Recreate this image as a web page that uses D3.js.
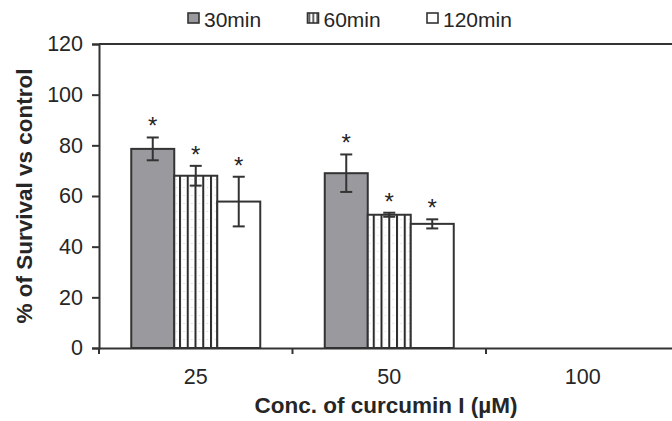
<!DOCTYPE html>
<html>
<head>
<meta charset="utf-8">
<script src="https://cdn.jsdelivr.net/npm/d3@7"></script>
<style>
  html, body { margin: 0; padding: 0; background: #fff; }
  svg { display: block; }
  text { font-family: "Liberation Sans", Arial, sans-serif; fill: #262626; }
</style>
</head>
<body>
<svg id="chart" width="672" height="421"></svg>
<script>
// ---- data ----
const categories = ["25", "50", "100"];
const series = ["30min", "60min", "120min"];
const values30 = [78.6, 69.0, null];
const values60 = [68.0, 52.6, null];
const values120 = [57.8, 49.0, null];
const err30 = [4.5, 7.4, null];
const err60 = [3.9, 0.8, null];
const err120 = [9.8, 1.8, null];
const yTicks = [0, 20, 40, 60, 80, 100, 120];
const yTitle = "% of Survival vs control";
const xTitle = "Conc. of curcumin I (\u00b5M)";

const valuesBySeries = [values30, values60, values120];
const errBySeries = [err30, err60, err120];

const svg = d3.select("#chart");
const stroke = "#333";

// pattern for 60min
const defs = svg.append("defs");
const pat = defs.append("pattern")
  .attr("id", "vstripes")
  .attr("patternUnits", "userSpaceOnUse")
  .attr("width", 7.75).attr("height", 8)
  .attr("x", 179);
pat.append("rect").attr("width", 7.75).attr("height", 8).attr("fill", "#fff");
pat.append("rect").attr("x", 0).attr("width", 2).attr("height", 8).attr("fill", "#2b2b2b");
pat.append("rect").attr("x", 4.6).attr("y", 3).attr("width", 0.8).attr("height", 1).attr("fill", "#c8c8c8");

const legPat = defs.append("pattern")
  .attr("id", "legstripes")
  .attr("patternUnits", "userSpaceOnUse")
  .attr("width", 4).attr("height", 4).attr("x", 309);
legPat.append("rect").attr("width", 4).attr("height", 4).attr("fill", "#fff");
legPat.append("rect").attr("width", 1.5).attr("height", 4).attr("fill", "#2b2b2b");

const fills = ["#9a9a9e", "url(#vstripes)", "#ffffff"];

// scales
const y = d3.scaleLinear().domain([0, 120]).range([348, 44]);
const x0 = d3.scaleBand().domain(categories).range([99, 679.5]).paddingInner(0).paddingOuter(0);
const bw = x0.bandwidth();
const gap = bw * 0.75 / 4.5;
const x1 = d3.scaleBand().domain(series).range([gap, bw - gap]).padding(0);

// top frame line
svg.append("line")
  .attr("x1", 99).attr("x2", 680)
  .attr("y1", y(120)).attr("y2", y(120))
  .attr("stroke", stroke).attr("stroke-width", 2);

// bars
const barData = [];
series.forEach((s, si) => {
  categories.forEach((c, ci) => {
    const v = valuesBySeries[si][ci];
    if (v != null) barData.push({ s, si, c, v, e: errBySeries[si][ci] });
  });
});

const g = svg.append("g");
g.selectAll("rect.bar").data(barData).join("rect")
  .attr("class", "bar")
  .attr("x", d => x0(d.c) + x1(d.s))
  .attr("y", d => y(d.v))
  .attr("width", x1.bandwidth())
  .attr("height", d => y(0) - y(d.v))
  .attr("fill", d => fills[d.si])
  .attr("stroke", stroke)
  .attr("stroke-width", 2);

// error bars
const eb = g.selectAll("g.err").data(barData).join("g").attr("class", "err");
eb.append("line")
  .attr("x1", d => x0(d.c) + x1(d.s) + x1.bandwidth() / 2)
  .attr("x2", d => x0(d.c) + x1(d.s) + x1.bandwidth() / 2)
  .attr("y1", d => y(d.v + d.e)).attr("y2", d => y(d.v - d.e))
  .attr("stroke", stroke).attr("stroke-width", 2);
[1, -1].forEach(sgn => {
  eb.append("line")
    .attr("x1", d => x0(d.c) + x1(d.s) + x1.bandwidth() / 2 - 6)
    .attr("x2", d => x0(d.c) + x1(d.s) + x1.bandwidth() / 2 + 6)
    .attr("y1", d => y(d.v + sgn * d.e)).attr("y2", d => y(d.v + sgn * d.e))
    .attr("stroke", stroke).attr("stroke-width", 2);
});

// stars
g.selectAll("text.star").data(barData).join("text")
  .attr("class", "star")
  .attr("x", d => x0(d.c) + x1(d.s) + x1.bandwidth() / 2)
  .attr("y", d => y(d.v + d.e) - 3)
  .attr("text-anchor", "middle")
  .attr("font-size", 24)
  .text("*");

// y axis
const yAxis = svg.append("g")
  .attr("transform", "translate(99,0)")
  .call(d3.axisLeft(y).tickValues(yTicks).tickSize(7).tickPadding(9).tickFormat(d3.format("d")));
yAxis.select(".domain").attr("stroke", stroke).attr("stroke-width", 2);
yAxis.selectAll(".tick line").attr("stroke", stroke).attr("stroke-width", 2);
yAxis.selectAll(".tick text").attr("font-size", 21.5).attr("fill", "#262626")
  .attr("font-family", "Liberation Sans, Arial, sans-serif");

// x axis
const xAxis = svg.append("g")
  .attr("transform", `translate(0,${y(0)})`)
  .call(d3.axisBottom(x0).tickSize(0).tickPadding(21));
xAxis.select(".domain").attr("stroke", stroke).attr("stroke-width", 2);
xAxis.selectAll(".tick text").attr("font-size", 21.5).attr("fill", "#262626")
  .attr("font-family", "Liberation Sans, Arial, sans-serif");
// boundary ticks
const boundaries = categories.map(c => x0(c)).concat([x0(categories[categories.length - 1]) + bw]);
xAxis.selectAll("line.btick").data(boundaries).join("line")
  .attr("class", "btick")
  .attr("x1", d => d).attr("x2", d => d)
  .attr("y1", 0).attr("y2", 6)
  .attr("stroke", stroke).attr("stroke-width", 2);

// titles
svg.append("text")
  .attr("transform", "translate(32,196) rotate(-90)")
  .attr("text-anchor", "middle")
  .attr("font-size", 22.5)
  .attr("font-weight", "bold")
  .text(yTitle);
svg.append("text")
  .attr("x", 386).attr("y", 413)
  .attr("text-anchor", "middle")
  .attr("font-size", 22.5)
  .attr("font-weight", "bold")
  .text(xTitle);

// legend
const legFills = ["#9a9a9e", "url(#legstripes)", "#ffffff"];
const leg = svg.append("g").selectAll("g").data(series).join("g")
  .attr("transform", (d, i) => `translate(${188 + i * 119.5},0)`);
leg.append("rect")
  .attr("x", 0).attr("y", 13).attr("width", 11).attr("height", 10)
  .attr("fill", (d, i) => legFills[i])
  .attr("stroke", stroke).attr("stroke-width", 1.6);
leg.append("text")
  .attr("x", 16).attr("y", 27)
  .attr("font-size", 21)
  .text(d => d);
</script>
</body>
</html>
